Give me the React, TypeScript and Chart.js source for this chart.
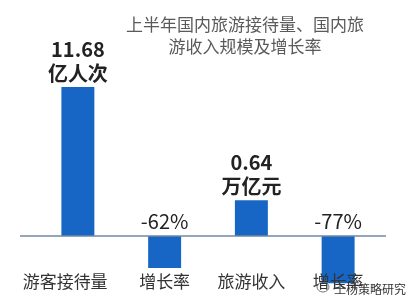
import React, { useEffect, useRef } from "react";
import { Chart, registerables } from "chart.js";

Chart.register(...registerables);

// Categories along the x axis
const categories = ["游客接待量", "增长率", "旅游收入", "增长率"];
// Bar heights as drawn in the picture (schematic, mixed units)
const barHeights = [11.68, -2.5, 2.8, -3.7];
// Value labels written next to each bar
const valueLabels = [["11.68", "亿人次"], ["-62%"], ["0.64", "万亿元"], ["-77%"]];
const boldLabels = [true, false, true, false];
const titleLines = ["上半年国内旅游接待量、国内旅", "游收入规模及增长率"];
const watermark = "王杨策略研究";

const FONT = '"Noto Sans CJK SC", "Noto Sans", sans-serif';
const BAR_COLOR = "#1766C6";

const overlayPlugin = {
  id: "overlay",
  afterDatasetsDraw(chart: any) {
    const ctx = chart.ctx;
    const x = chart.scales.x;
    const y = chart.scales.y;
    const y0 = y.getPixelForValue(0);
    ctx.save();
    // baseline
    ctx.strokeStyle = "#7088a0";
    ctx.lineWidth = 1.5;
    ctx.beginPath();
    ctx.moveTo(20, y0);
    ctx.lineTo(386, y0);
    ctx.stroke();

    // value labels
    ctx.textAlign = "center";
    ctx.textBaseline = "middle";
    ctx.fillStyle = "#222";
    barHeights.forEach((v, i) => {
      const cx = x.getPixelForValue(i);
      const lines = valueLabels[i];
      const bold = boldLabels[i];
      ctx.font = `${bold ? "bold " : ""}20px ${FONT}`;
      if (v >= 0) {
        const top = y.getPixelForValue(v);
        for (let k = 0; k < lines.length; k++) {
          const off = (lines.length - k) * 24 - 11;
          ctx.fillText(lines[k], cx, top - off - 1);
        }
      } else {
        ctx.fillText(lines[0], cx, y0 - 15);
      }
    });

    // title
    ctx.font = `17px ${FONT}`;
    ctx.fillStyle = "#5a5a5a";
    ctx.fillText(titleLines[0], 245, 25);
    ctx.fillText(titleLines[1], 245, 47);

    // watermark
    ctx.font = `12px ${FONT}`;
    ctx.fillStyle = "#333";
    ctx.textAlign = "left";
    ctx.fillText(watermark, 334, 289);
    ctx.strokeStyle = "#777";
    ctx.lineWidth = 1;
    ctx.beginPath();
    ctx.ellipse(323, 287, 6, 5, 0, 0, Math.PI * 2);
    ctx.stroke();
    ctx.restore();
  },
};

export default function App() {
  const ref = useRef<HTMLCanvasElement | null>(null);
  useEffect(() => {
    document.body.style.margin = "0";
    if (!ref.current) return;
    const chart = new Chart(ref.current, {
      type: "bar",
      data: {
        labels: categories,
        datasets: [
          {
            data: barHeights,
            backgroundColor: BAR_COLOR,
            barPercentage: 0.38,
            categoryPercentage: 1,
            clip: false as any,
          },
        ],
      },
      options: {
        animation: false,
        responsive: false,
        layout: { padding: { left: 34.5, right: 24.5, top: 20, bottom: 14 } },
        plugins: { legend: { display: false }, tooltip: { enabled: false }, title: { display: false } },
        scales: {
          x: {
            display: true,
            grid: { display: false, drawTicks: false },
            border: { display: false },
            ticks: {
              color: "#333",
              font: { size: 17, family: FONT },
              padding: 0,
              maxRotation: 0,
              autoSkip: false,
              z: 1,
              callback: (_v: any, i: number) => (i === 0 ? categories[i] + "\u2002\u2002\u2002" : categories[i]),
            },
          },
          y: { display: false, min: -2.79, max: 16.93 },
        },
      },
      plugins: [overlayPlugin],
    });
    return () => chart.destroy();
  }, []);
  return (
    <div style={{ width: 406, height: 306, background: "#fff" }}>
      <canvas ref={ref} width={406} height={306} />
    </div>
  );
}
